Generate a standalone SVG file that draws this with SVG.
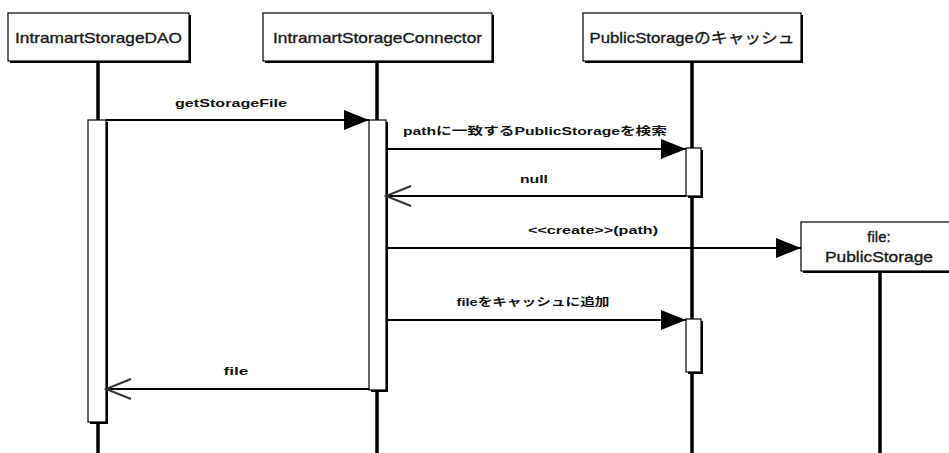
<svg xmlns="http://www.w3.org/2000/svg" width="949" height="453" viewBox="0 0 949 453">
<style>
.shadow{fill:#000}
.box{fill:#fff;stroke:#000;stroke-width:1.2}
.life{stroke:#000;stroke-width:3.5}
.msg{stroke:#000;stroke-width:2;fill:none}
.nl{font-family:"Liberation Sans","Noto Sans CJK JP",sans-serif;font-size:15px;fill:#1a1a1a;stroke:#1a1a1a;stroke-width:0.35;text-anchor:middle}
.ml{font-family:"Liberation Sans","Noto Sans CJK JP",sans-serif;font-size:11px;font-weight:bold;fill:#111;text-anchor:middle}
</style>
<defs>
<marker id="filled" markerUnits="userSpaceOnUse" markerWidth="26" markerHeight="22" refX="25" refY="11" orient="auto" viewBox="0 0 26 22">
<path d="M0,1 L25,11 L0,21 z" fill="#000"/>
</marker>
<marker id="open" markerUnits="userSpaceOnUse" markerWidth="28" markerHeight="24" refX="26" refY="12" orient="auto" viewBox="0 0 28 24">
<path d="M1,2 L26,12 L1,22" fill="none" stroke="#333" stroke-width="2"/>
</marker>
</defs>

<g id="lifelines">
<line class="life" x1="98" y1="61" x2="98" y2="453"/>
<line class="life" x1="377" y1="61" x2="377" y2="453"/>
<line class="life" x1="692" y1="61" x2="692" y2="453"/>
<line class="life" x1="880" y1="271" x2="880" y2="453"/>
</g>

<g id="node-dao">
<rect class="shadow" x="10" y="15" width="181" height="48"/>
<rect class="box" x="8" y="13" width="181" height="48"/>
<text class="nl" x="98.5" y="43" textLength="167" lengthAdjust="spacingAndGlyphs">IntramartStorageDAO</text>
</g>
<g id="node-connector">
<rect class="shadow" x="265" y="15" width="229" height="48"/>
<rect class="box" x="263" y="13" width="229" height="48"/>
<text class="nl" x="377.5" y="43" textLength="209" lengthAdjust="spacingAndGlyphs">IntramartStorageConnector</text>
</g>
<g id="node-cache">
<rect class="shadow" x="585" y="15" width="218" height="48"/>
<rect class="box" x="583" y="13" width="218" height="48"/>
<text class="nl" x="692" y="43" textLength="205" lengthAdjust="spacingAndGlyphs">PublicStorageのキャッシュ</text>
</g>
<g id="node-file">
<rect class="shadow" x="803" y="224" width="150" height="49"/>
<rect class="box" x="801" y="222" width="150" height="49"/>
<text class="nl" x="879" y="242" font-size="14">file:</text>
<text class="nl" x="879" y="262" font-size="14" textLength="108" lengthAdjust="spacingAndGlyphs">PublicStorage</text>
</g>

<g id="activations">
<rect class="shadow" x="90" y="122" width="18" height="302"/>
<rect class="box" x="88" y="120" width="18" height="302"/>
<rect class="shadow" x="371" y="122" width="17" height="270"/>
<rect class="box" x="369" y="120" width="17" height="270"/>
<rect class="shadow" x="688" y="150" width="15" height="48"/>
<rect class="box" x="686" y="148" width="15" height="48"/>
<rect class="shadow" x="688" y="321" width="15" height="53"/>
<rect class="box" x="686" y="319" width="15" height="53"/>
</g>

<g id="connectors">
<line class="msg" x1="106" y1="120" x2="369" y2="120" marker-end="url(#filled)"/>
<line class="msg" x1="386" y1="149" x2="686" y2="149" marker-end="url(#filled)"/>
<line class="msg" x1="686" y1="196" x2="386" y2="196" marker-end="url(#open)"/>
<line class="msg" x1="386" y1="248" x2="801" y2="248" marker-end="url(#filled)"/>
<line class="msg" x1="386" y1="320" x2="686" y2="320" marker-end="url(#filled)"/>
<line class="msg" x1="369" y1="389" x2="106" y2="389" marker-end="url(#open)"/>
<text class="ml" x="231" y="107" textLength="112" lengthAdjust="spacingAndGlyphs">getStorageFile</text>
<text class="ml" x="535" y="135" textLength="264" lengthAdjust="spacingAndGlyphs">pathに一致するPublicStorageを検索</text>
<text class="ml" x="534" y="183" textLength="28" lengthAdjust="spacingAndGlyphs">null</text>
<text class="ml" x="593" y="234" textLength="130" lengthAdjust="spacingAndGlyphs">&lt;&lt;create&gt;&gt;(path)</text>
<text class="ml" x="533" y="306" textLength="153" lengthAdjust="spacingAndGlyphs">fileをキャッシュに追加</text>
<text class="ml" x="236" y="375" textLength="25" lengthAdjust="spacingAndGlyphs">file</text>
</g>
</svg>
